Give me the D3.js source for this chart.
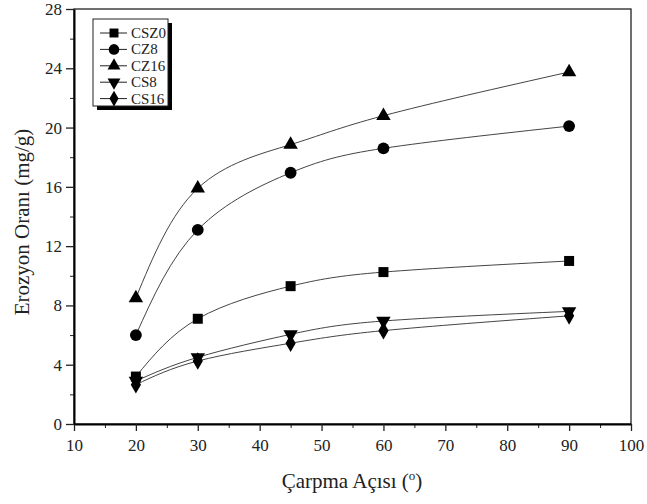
<!DOCTYPE html>
<html>
<head>
<meta charset="utf-8">
<script src="https://cdn.jsdelivr.net/npm/d3@7"></script>
<style>
  body { margin: 0; background: #fff; }
  svg { display: block; font-family: 'Liberation Serif', 'DejaVu Serif', serif; }
</style>
</head>
<body>
<div id="chart"></div>
<script>
const angles = [20, 30, 45, 60, 90]
const seriesNames = ['CSZ0', 'CZ8', 'CZ16', 'CS8', 'CS16']
const symbols = ['square', 'circle', 'triangle', 'triangleDown', 'diamond']
const CSZ0 = [3.2, 7.1, 9.3, 10.25, 11.0]
const CZ8 = [6.0, 13.1, 16.95, 18.6, 20.1]
const CZ16 = [8.5, 15.9, 18.85, 20.8, 23.75]
const CS8 = [2.9, 4.5, 6.05, 6.95, 7.6]
const CS16 = [2.65, 4.25, 5.45, 6.3, 7.3]
const values = [CSZ0, CZ8, CZ16, CS8, CS16]
const xTicks = [10, 20, 30, 40, 50, 60, 70, 80, 90, 100]
const yTicks = [0, 4, 8, 12, 16, 20, 24, 28]

const W = 647, H = 504
const L = 74, R = 631, T = 9, B = 424

const svg = d3.select('#chart').append('svg').attr('width', W).attr('height', H)

const x = d3.scaleLinear().domain([10, 100]).range([L, R])
const y = d3.scaleLinear().domain([0, 28]).range([B, T])

// frame (top / right)
svg.append('rect').attr('x', L).attr('y', T).attr('width', R - L).attr('height', B - T)
  .attr('fill', 'none').attr('stroke', '#222').attr('stroke-width', 1.3)

// minor ticks
svg.append('g').attr('transform', `translate(0,${B})`)
  .call(d3.axisBottom(x).tickValues(d3.range(15, 100, 10)).tickSize(4).tickFormat(''))
  .call(g => g.select('.domain').remove())
svg.append('g').attr('transform', `translate(${L},0)`)
  .call(d3.axisLeft(y).tickValues(d3.range(2, 28, 4)).tickSize(4).tickFormat(''))
  .call(g => g.select('.domain').remove())

// major axes
const xAxis = svg.append('g').attr('transform', `translate(0,${B})`)
  .call(d3.axisBottom(x).tickValues(xTicks).tickSize(7).tickPadding(8).tickSizeOuter(0))
const yAxis = svg.append('g').attr('transform', `translate(${L},0)`)
  .call(d3.axisLeft(y).tickValues(yTicks).tickSize(8).tickPadding(4).tickSizeOuter(0))
;[xAxis, yAxis].forEach(g => {
  g.select('.domain').attr('stroke-width', 2)
  g.selectAll('.tick line').attr('stroke-width', 1.3)
  g.selectAll('text').attr('font-family', 'Liberation Serif').attr('font-size', 17).attr('fill', '#222')
})
svg.selectAll('.tick line').attr('stroke', '#222')

// curves
const line = d3.line().x((d, i) => x(angles[i])).y(d => y(d)).curve(d3.curveNatural)
const symType = {
  square: d3.symbolSquare, circle: d3.symbolCircle, triangle: d3.symbolTriangle,
  triangleDown: d3.symbolTriangle, diamond: d3.symbolDiamond
}
const symSize = { square: 100, circle: 110, triangle: 90, triangleDown: 90, diamond: 90 }

function drawSymbol(g, name, cx, cy, k = 1) {
  g.append('path')
    .attr('d', d3.symbol().type(symType[name]).size(symSize[name] * k)())
    .attr('transform', `translate(${cx},${cy})${name === 'triangleDown' ? ' rotate(180)' : ''}`)
    .attr('fill', '#000')
}

values.forEach((vals, s) => {
  svg.append('path').datum(vals).attr('d', line)
    .attr('fill', 'none').attr('stroke', '#444').attr('stroke-width', 1)
  const g = svg.append('g')
  vals.forEach((v, i) => drawSymbol(g, symbols[s], x(angles[i]), y(v)))
})

// legend
const lg = svg.append('g').attr('transform', 'translate(93,19)')
lg.append('rect').attr('x', 4).attr('y', 4).attr('width', 75).attr('height', 87).attr('fill', '#000')
lg.append('rect').attr('x', 0).attr('y', 0).attr('width', 75).attr('height', 87)
  .attr('fill', '#fff').attr('stroke', '#222').attr('stroke-width', 1)
seriesNames.forEach((name, i) => {
  const cy = 14 + i * 16.4
  lg.append('line').attr('x1', 7).attr('x2', 34).attr('y1', cy).attr('y2', cy)
    .attr('stroke', '#222').attr('stroke-width', 1)
  drawSymbol(lg, symbols[i], 21, cy, 0.8)
  lg.append('text').attr('x', 38).attr('y', cy + 5).attr('font-size', 15).attr('fill', '#222').text(name)
})

// axis titles
svg.append('text').attr('x', 352).attr('y', 488).attr('text-anchor', 'middle')
  .attr('font-size', 21).attr('fill', '#222')
  .call(t => {
    t.append('tspan').text('Çarpma Açısı (')
    t.append('tspan').attr('font-size', 13).attr('dy', -8).text('o')
    t.append('tspan').attr('dy', 8).text(')')
  })
svg.append('text').attr('transform', 'translate(29,222) rotate(-90)').attr('text-anchor', 'middle')
  .attr('font-size', 21).attr('fill', '#222').text('Erozyon Oranı (mg/g)')
</script>
</body>
</html>
